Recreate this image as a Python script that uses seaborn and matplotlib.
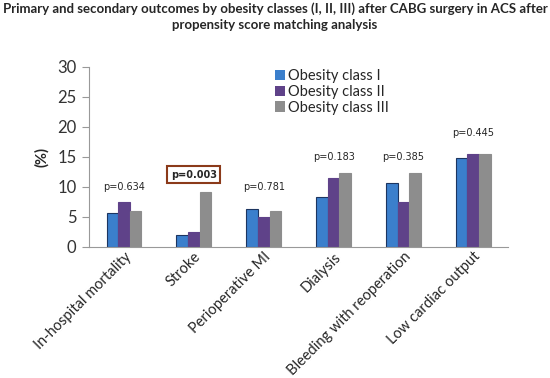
import matplotlib
matplotlib.use("Agg")
import matplotlib.pyplot as plt
import seaborn as sns
import pandas as pd

categories = ["In-hospital mortality", "Stroke", "Perioperative MI", "Dialysis",
              "Bleeding with reoperation", "Low cardiac output"]
class_1 = [5.7, 1.9, 6.3, 8.3, 10.6, 14.8]
class_2 = [7.5, 2.4, 5.0, 11.5, 7.5, 15.4]
class_3 = [6.0, 9.2, 6.0, 12.3, 12.3, 15.55]
groups = ["Obesity class I", "Obesity class II", "Obesity class III"]
p_values = ["p=0.634", "p=0.003", "p=0.781", "p=0.183", "p=0.385", "p=0.445"]
p_heights = [10.0, 12.0, 10.0, 15.0, 15.0, 19.0]

df = pd.DataFrame({
    "outcome": categories * 3,
    "group": [groups[0]] * 6 + [groups[1]] * 6 + [groups[2]] * 6,
    "value": class_1 + class_2 + class_3,
})

sns.set_style("white")
plt.rcParams["font.family"] = ["Lato", "DejaVu Sans"]

fig = plt.figure(figsize=(5.5, 3.78), dpi=100)
ax = fig.add_axes([0.162, 0.347, 0.762, 0.476])

palette = ["#3b7fcc", "#5f4289", "#8d8d8d"]
sns.barplot(data=df, x="outcome", y="value", hue="group", palette=palette,
            width=0.5, ax=ax, saturation=1, edgecolor="none", legend=True)
edges = ["#1c3560", "#5f4289", "#8d8d8d"]
for cont, ec in zip(ax.containers, edges):
    for bar in cont:
        bar.set_edgecolor(ec)
        bar.set_linewidth(0.8)

ax.set_ylim(0, 30)
ax.set_yticks(range(0, 31, 5))
ax.set_xlim(-0.5, 5.5)
ax.tick_params(axis="y", labelsize=12, length=5, color="#999999", pad=4,
               left=True, labelcolor="#333333")
ax.tick_params(axis="x", labelsize=10.5, length=0, pad=2)
plt.setp(ax.get_xticklabels(), rotation=45, ha="right", rotation_mode="anchor")
ax.set_xlabel("")
ax.set_ylabel("(%)", fontsize=10.5, fontweight="bold", labelpad=6)
for s in ["top", "right"]:
    ax.spines[s].set_visible(False)
ax.spines["left"].set_color("#999999")
ax.spines["bottom"].set_color("#999999")

for i, (txt, h) in enumerate(zip(p_values, p_heights)):
    if txt == "p=0.003":
        ax.text(i, h, txt, ha="center", va="center", fontsize=7,
                fontweight="bold", family="DejaVu Sans",
                bbox=dict(boxstyle="square,pad=0.35", fc="white",
                          ec="#8b3a1a", lw=1.5))
    else:
        ax.text(i, h, txt, ha="center", va="center", fontsize=7,
                family="DejaVu Sans")

ax.legend(loc="upper left", bbox_to_anchor=(0.43, 1.02), frameon=False,
          fontsize=10.5, handlelength=0.7, handleheight=0.7, handletextpad=0.2,
          labelspacing=0.12, borderaxespad=0)

fig.text(0.5, 0.955, "Primary and secondary outcomes by obesity classes (I, II, III) after CABG surgery in ACS after\npropensity score matching analysis",
         ha="center", va="center", fontsize=9.5, fontweight="bold", linespacing=1.4)

fig.savefig("out.png", dpi=100)
